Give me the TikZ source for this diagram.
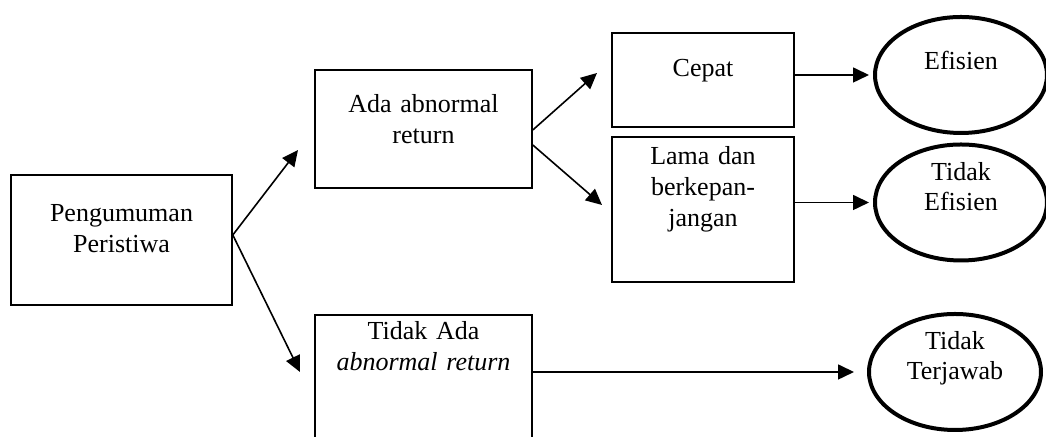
\documentclass[tikz,border=0pt]{standalone}
\usepackage{fontspec}
\setmainfont{Liberation Serif}
\usetikzlibrary{shapes.geometric,arrows.meta}

\begin{document}
\begin{tikzpicture}[x=0.5pt,y=0.5pt,
  kotak/.style={draw,line width=0.8pt,inner sep=0pt,align=center,font=\fontsize{13}{15.5}\selectfont},
  bulat/.style={ellipse,draw,line width=2pt,inner sep=0pt,align=center,text width=52pt,text height=9pt,
    minimum width=86pt,minimum height=58pt,font=\fontsize{13}{15}\selectfont},
  panah/.style={-{Triangle[length=8pt,width=7.5pt]},line width=0.8pt}]
\clip (0,0) rectangle (1046,437);
\node[kotak,text width=110.5pt,text height=23.5pt,text depth=41.5pt] (peng) at (121.5,197) {Pengumuman\\Peristiwa};
\node[kotak,text width=108.5pt,text height=21.5pt,text depth=37.5pt] (ada) at (423.5,308) {Ada abnormal\\return};
\node[kotak,text width=108.5pt,text height=12.5pt,text depth=67.5pt] (tidakada) at (423.5,42) {Tidak Ada\\\textit{abnormal return}};
\node[kotak,text width=91pt,text height=22pt,text depth=25pt] (cepat) at (703,357) {Cepat};
\node[kotak,text width=91pt,text height=14pt,text depth=58.5pt] (lama) at (703,227.5) {Lama dan\\berkepan-\\jangan};
\node[bulat,text depth=14pt] (efisien) at (961,362) {Efisien};
\node[bulat,text depth=31pt] (tidakef) at (961,234.5) {Tidak\\Efisien};
\node[bulat,text depth=31pt] (terjawab) at (955,65) {Tidak\\Terjawab};
% ujung panah
\coordinate (tA) at (298,287);
\coordinate (tB) at (300,65);
\coordinate (tC) at (597,364);
\coordinate (tD) at (602,232);
\draw[panah] ([yshift=2.5pt]peng.east) -- (tA);
\draw[panah] ([yshift=2.5pt]peng.east) -- (tB);
\draw[panah] ([yshift=-0.5pt]ada.east) -- (tC);
\draw[panah] ([yshift=-8pt]ada.east) -- (tD);
\draw[panah,shorten >=2pt] (cepat.east |- efisien.west) -- (efisien.west);
\draw[panah,shorten >=2pt] (lama.east |- tidakef.west) -- (tidakef.west);
\draw[panah,shorten >=6.5pt] (tidakada.east |- terjawab.west) -- (terjawab.west);
\end{tikzpicture}
\end{document}
